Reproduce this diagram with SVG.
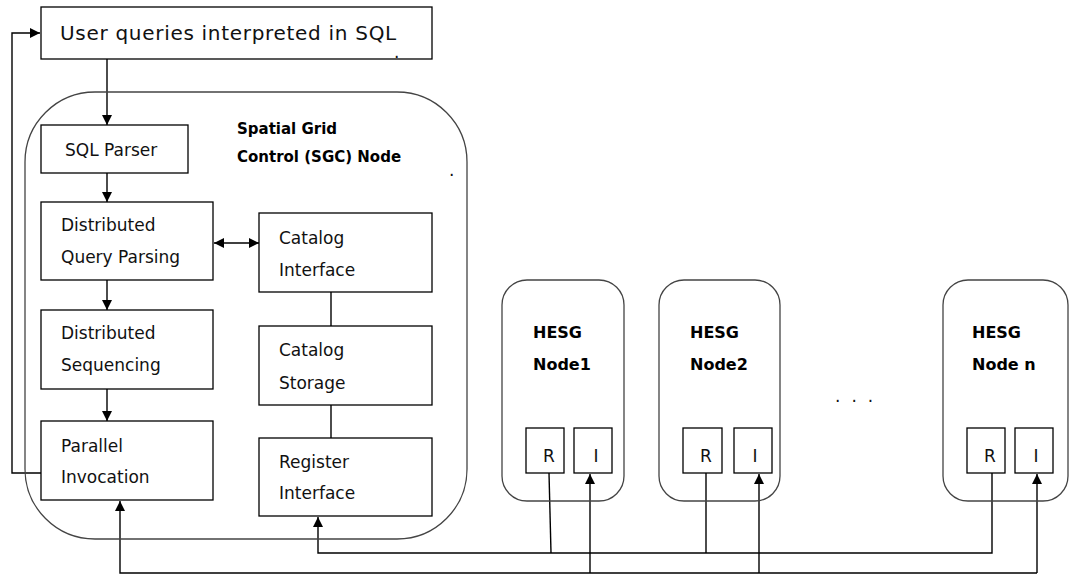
<svg xmlns="http://www.w3.org/2000/svg" width="1070" height="574" viewBox="0 0 1070 574">
<style>
.box{fill:#fff;stroke:#000;stroke-width:1.3}
.rbox{fill:none;stroke:#444;stroke-width:1.3}
.ln{fill:none;stroke:#000;stroke-width:1.4}
.t{font-family:"DejaVu Sans",sans-serif;font-size:17px;fill:#111}
.tb{font-family:"DejaVu Sans",sans-serif;font-size:16px;font-weight:bold;fill:#000}
.tb2{font-family:"DejaVu Sans",sans-serif;font-size:15px;font-weight:bold;fill:#000}
.tt{font-family:"DejaVu Sans",sans-serif;font-size:20px;letter-spacing:0.7px;fill:#111}
</style>
<defs>
<marker id="ah" viewBox="0 0 10 10" refX="10" refY="5" markerWidth="10" markerHeight="10" markerUnits="userSpaceOnUse" orient="auto-start-reverse">
<path d="M0,0 L10,5 L0,10 Z" fill="#000"/>
</marker>
</defs>
<g id="connectors">
<path class="ln" d="M41,473 H12 V33 H40" marker-end="url(#ah)"/>
<path class="ln" d="M107,59 V125" marker-end="url(#ah)"/>
<path class="ln" d="M107,173 V202" marker-end="url(#ah)"/>
<path class="ln" d="M214,243 H259" marker-start="url(#ah)" marker-end="url(#ah)"/>
<path class="ln" d="M107,280 V310" marker-end="url(#ah)"/>
<path class="ln" d="M107,389 V421" marker-end="url(#ah)"/>
<path class="ln" d="M331,292 V326"/>
<path class="ln" d="M331,405 V438"/>
<path class="ln" d="M1037,573 H120 V501" marker-end="url(#ah)"/>
<path class="ln" d="M590,573 V474" marker-end="url(#ah)"/>
<path class="ln" d="M759,573 V474" marker-end="url(#ah)"/>
<path class="ln" d="M1037,573 V474" marker-end="url(#ah)"/>
<path class="ln" d="M992,473 V553 H318 V517" marker-end="url(#ah)"/>
<path class="ln" d="M549,473 L551,553"/>
<path class="ln" d="M706,473 V553"/>
</g>
<g id="user-queries">
<rect class="box" x="41" y="7" width="391" height="52"/>
<text class="tt" x="60" y="40">User queries interpreted in SQL</text>
<text class="t" x="394" y="58" font-size="10">.</text>
</g>
<g id="sgc-node">
<rect class="rbox" x="25" y="92" width="442" height="447" rx="70" ry="70"/>
<text class="tb2" x="237" y="134">Spatial Grid</text>
<text class="tb2" x="237" y="162">Control (SGC) Node</text>
<text class="t" x="449" y="176" font-size="10">.</text>
</g>
<g id="sql-parser">
<rect class="box" x="41" y="125" width="147" height="48"/>
<text class="t" x="65" y="156">SQL Parser</text>
</g>
<g id="dist-query-parsing">
<rect class="box" x="41" y="202" width="172" height="78"/>
<text class="t" x="61" y="231">Distributed</text>
<text class="t" x="61" y="263">Query Parsing</text>
</g>
<g id="dist-sequencing">
<rect class="box" x="41" y="310" width="172" height="79"/>
<text class="t" x="61" y="339">Distributed</text>
<text class="t" x="61" y="371">Sequencing</text>
</g>
<g id="parallel-invocation">
<rect class="box" x="41" y="421" width="172" height="79"/>
<text class="t" x="61" y="452">Parallel</text>
<text class="t" x="61" y="483">Invocation</text>
</g>
<g id="catalog-interface">
<rect class="box" x="259" y="213" width="173" height="79"/>
<text class="t" x="279" y="244">Catalog</text>
<text class="t" x="279" y="276">Interface</text>
</g>
<g id="catalog-storage">
<rect class="box" x="259" y="326" width="173" height="79"/>
<text class="t" x="279" y="356">Catalog</text>
<text class="t" x="279" y="389">Storage</text>
</g>
<g id="register-interface">
<rect class="box" x="259" y="438" width="173" height="78"/>
<text class="t" x="279" y="468">Register</text>
<text class="t" x="279" y="499">Interface</text>
</g>
<g id="hesg-node1">
<rect class="rbox" x="502" y="280" width="122" height="221" rx="25" ry="25"/>
<text class="tb" x="533" y="338">HESG</text>
<text class="tb" x="533" y="370">Node1</text>
<rect class="box" x="526" y="428" width="38" height="45"/>
<text class="t" x="549" y="462" text-anchor="middle">R</text>
<rect class="box" x="574" y="428" width="38" height="45"/>
<text class="t" x="596" y="462" text-anchor="middle">I</text>
</g>
<g id="hesg-node2">
<rect class="rbox" x="659" y="280" width="121" height="221" rx="25" ry="25"/>
<text class="tb" x="690" y="338">HESG</text>
<text class="tb" x="690" y="370">Node2</text>
<rect class="box" x="683" y="428" width="39" height="45"/>
<text class="t" x="706" y="462" text-anchor="middle">R</text>
<rect class="box" x="734" y="428" width="38" height="45"/>
<text class="t" x="755" y="462" text-anchor="middle">I</text>
</g>
<g id="ellipsis">
<text class="t" x="835" y="402" letter-spacing="11">...</text>
</g>
<g id="hesg-noden">
<rect class="rbox" x="943" y="280" width="125" height="221" rx="25" ry="25"/>
<text class="tb" x="972" y="338">HESG</text>
<text class="tb" x="972" y="370">Node n</text>
<rect class="box" x="967" y="428" width="38" height="45"/>
<text class="t" x="990" y="462" text-anchor="middle">R</text>
<rect class="box" x="1015" y="428" width="38" height="45"/>
<text class="t" x="1036" y="462" text-anchor="middle">I</text>
</g>
</svg>
